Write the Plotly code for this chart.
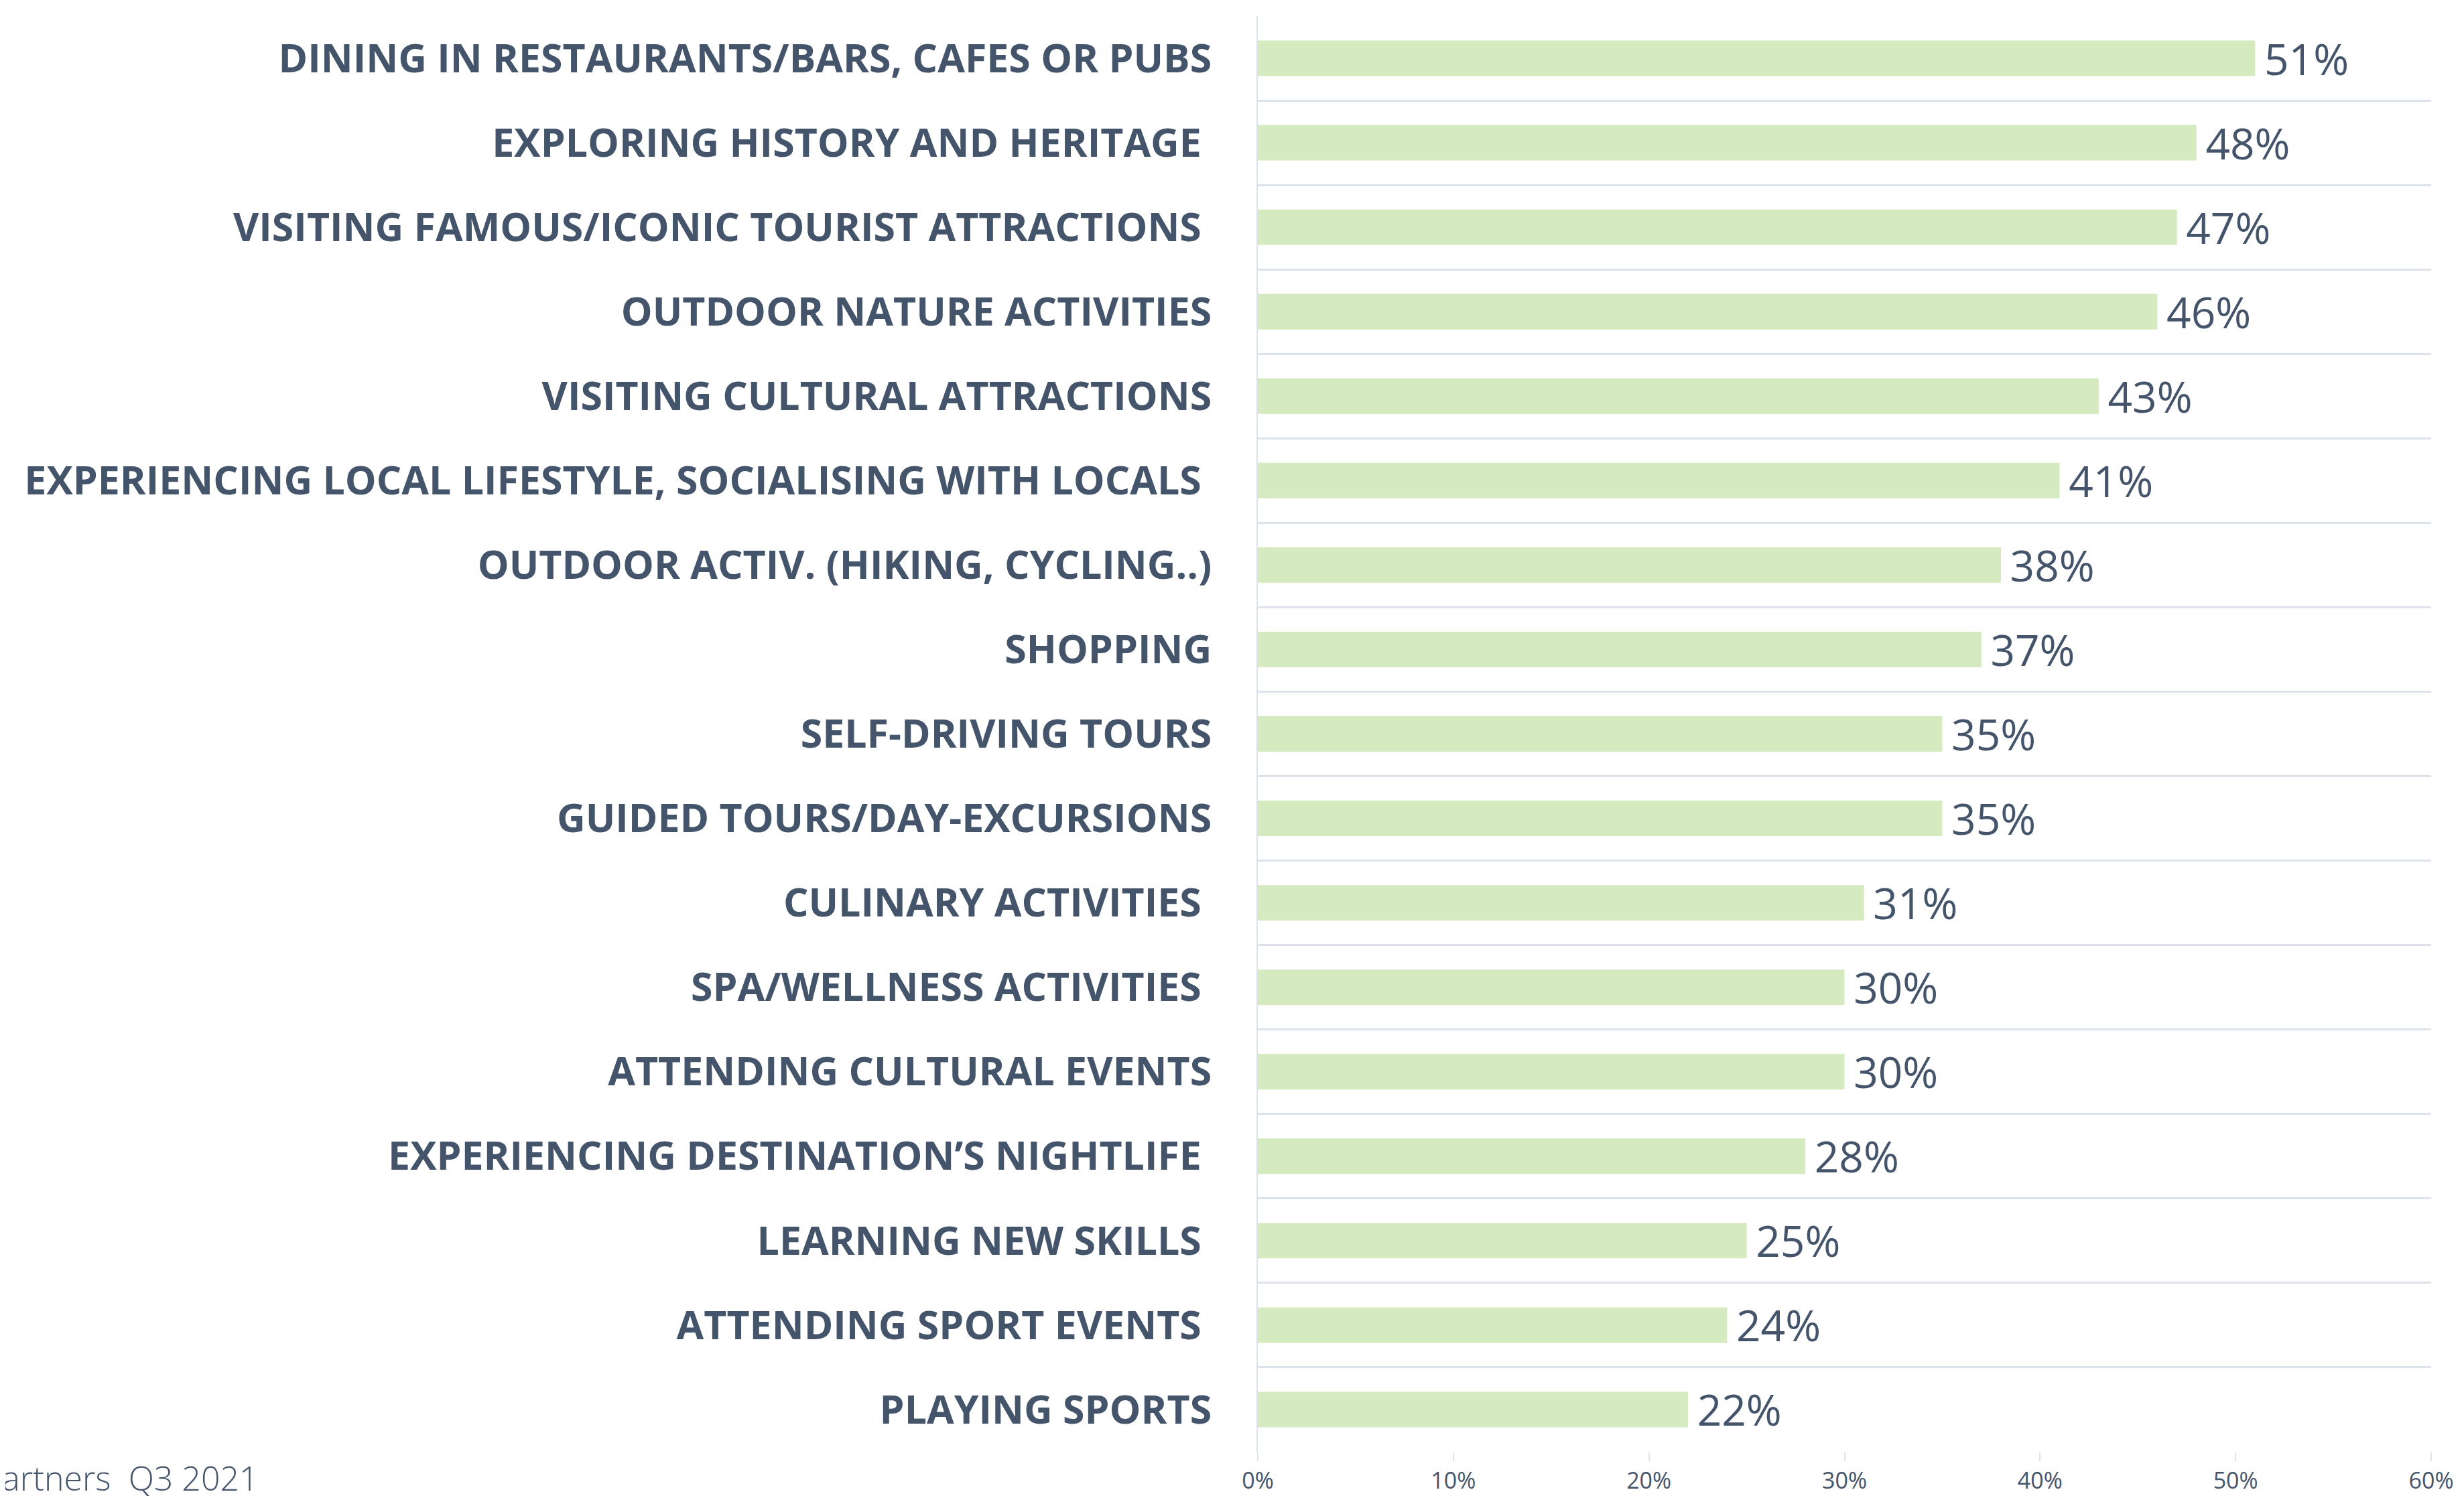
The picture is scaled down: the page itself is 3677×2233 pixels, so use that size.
import plotly.graph_objects as go

categories = [
    "DINING IN RESTAURANTS/BARS, CAFES OR PUBS",
    "EXPLORING HISTORY AND HERITAGE\u00a0",
    "VISITING FAMOUS/ICONIC TOURIST ATTRACTIONS\u00a0",
    "OUTDOOR NATURE ACTIVITIES",
    "VISITING CULTURAL ATTRACTIONS",
    "EXPERIENCING LOCAL LIFESTYLE, SOCIALISING WITH LOCALS\u00a0",
    "OUTDOOR ACTIV. (HIKING, CYCLING..)",
    "SHOPPING",
    "SELF-DRIVING TOURS",
    "GUIDED TOURS/DAY-EXCURSIONS",
    "CULINARY ACTIVITIES\u00a0",
    "SPA/WELLNESS ACTIVITIES\u00a0",
    "ATTENDING CULTURAL EVENTS",
    "EXPERIENCING DESTINATION\u2019S NIGHTLIFE\u00a0",
    "LEARNING NEW SKILLS\u00a0",
    "ATTENDING SPORT EVENTS\u00a0",
    "PLAYING SPORTS",
]
values = [0.51, 0.48, 0.47, 0.46, 0.43, 0.41, 0.38, 0.37, 0.35, 0.35,
          0.31, 0.30, 0.30, 0.28, 0.25, 0.24, 0.22]
x_ticks = [0, 0.1, 0.2, 0.3, 0.4, 0.5, 0.6]
footer = "Partners\u00a0\u00a0Q3 2021"

TEXT = "#44546A"
GRID = "#DCE3EB"

W, H = 3677, 2233
L, R, T, B = 1869, 57, 16, 74
PW, PH = W - L - R, H - T - B

fig = go.Figure(go.Bar(
    x=values,
    y=categories,
    orientation="h",
    marker=dict(color="#D5EBBF", line=dict(width=0)),
    text=[f"\u2009{round(v*100)}%" for v in values],
    textposition="outside",
    constraintext="none",
    textfont=dict(family="Open Sans", size=64, color=TEXT),
    cliponaxis=False,
))

fig.update_layout(
    width=W, height=H,
    margin=dict(l=L, r=R, t=T, b=B, autoexpand=False),
    plot_bgcolor="white", paper_bgcolor="white",
    bargap=0.58,
    showlegend=False,
    xaxis=dict(
        range=[0, 0.6], tickvals=x_ticks, tickformat=".0%",
        showgrid=False, zeroline=False, showline=False,
        ticks="outside", ticklen=13, tickwidth=2, tickcolor=GRID,
        tickfont=dict(family="Open Sans", size=34, color=TEXT),
        ticklabelstandoff=0,
    ),
    yaxis=dict(
        type="category", autorange="reversed",
        tickson="boundaries", showgrid=True, gridcolor=GRID, gridwidth=3,
        showline=True, linecolor=GRID, linewidth=2,
        ticks="", zeroline=False,
        tickfont=dict(family="Open Sans", size=59, color=TEXT, weight="bold"),
        ticklabelstandoff=55,
    ),
    annotations=[dict(
        text=footer, xref="paper", yref="paper",
        x=(380 - L) / PW, y=(T + PH - 2198) / PH,
        xanchor="right", yanchor="middle",
        showarrow=False,
        font=dict(family="Open Sans", size=50, color=TEXT, weight=300),
    )],
)

fig.write_html("out.html")
